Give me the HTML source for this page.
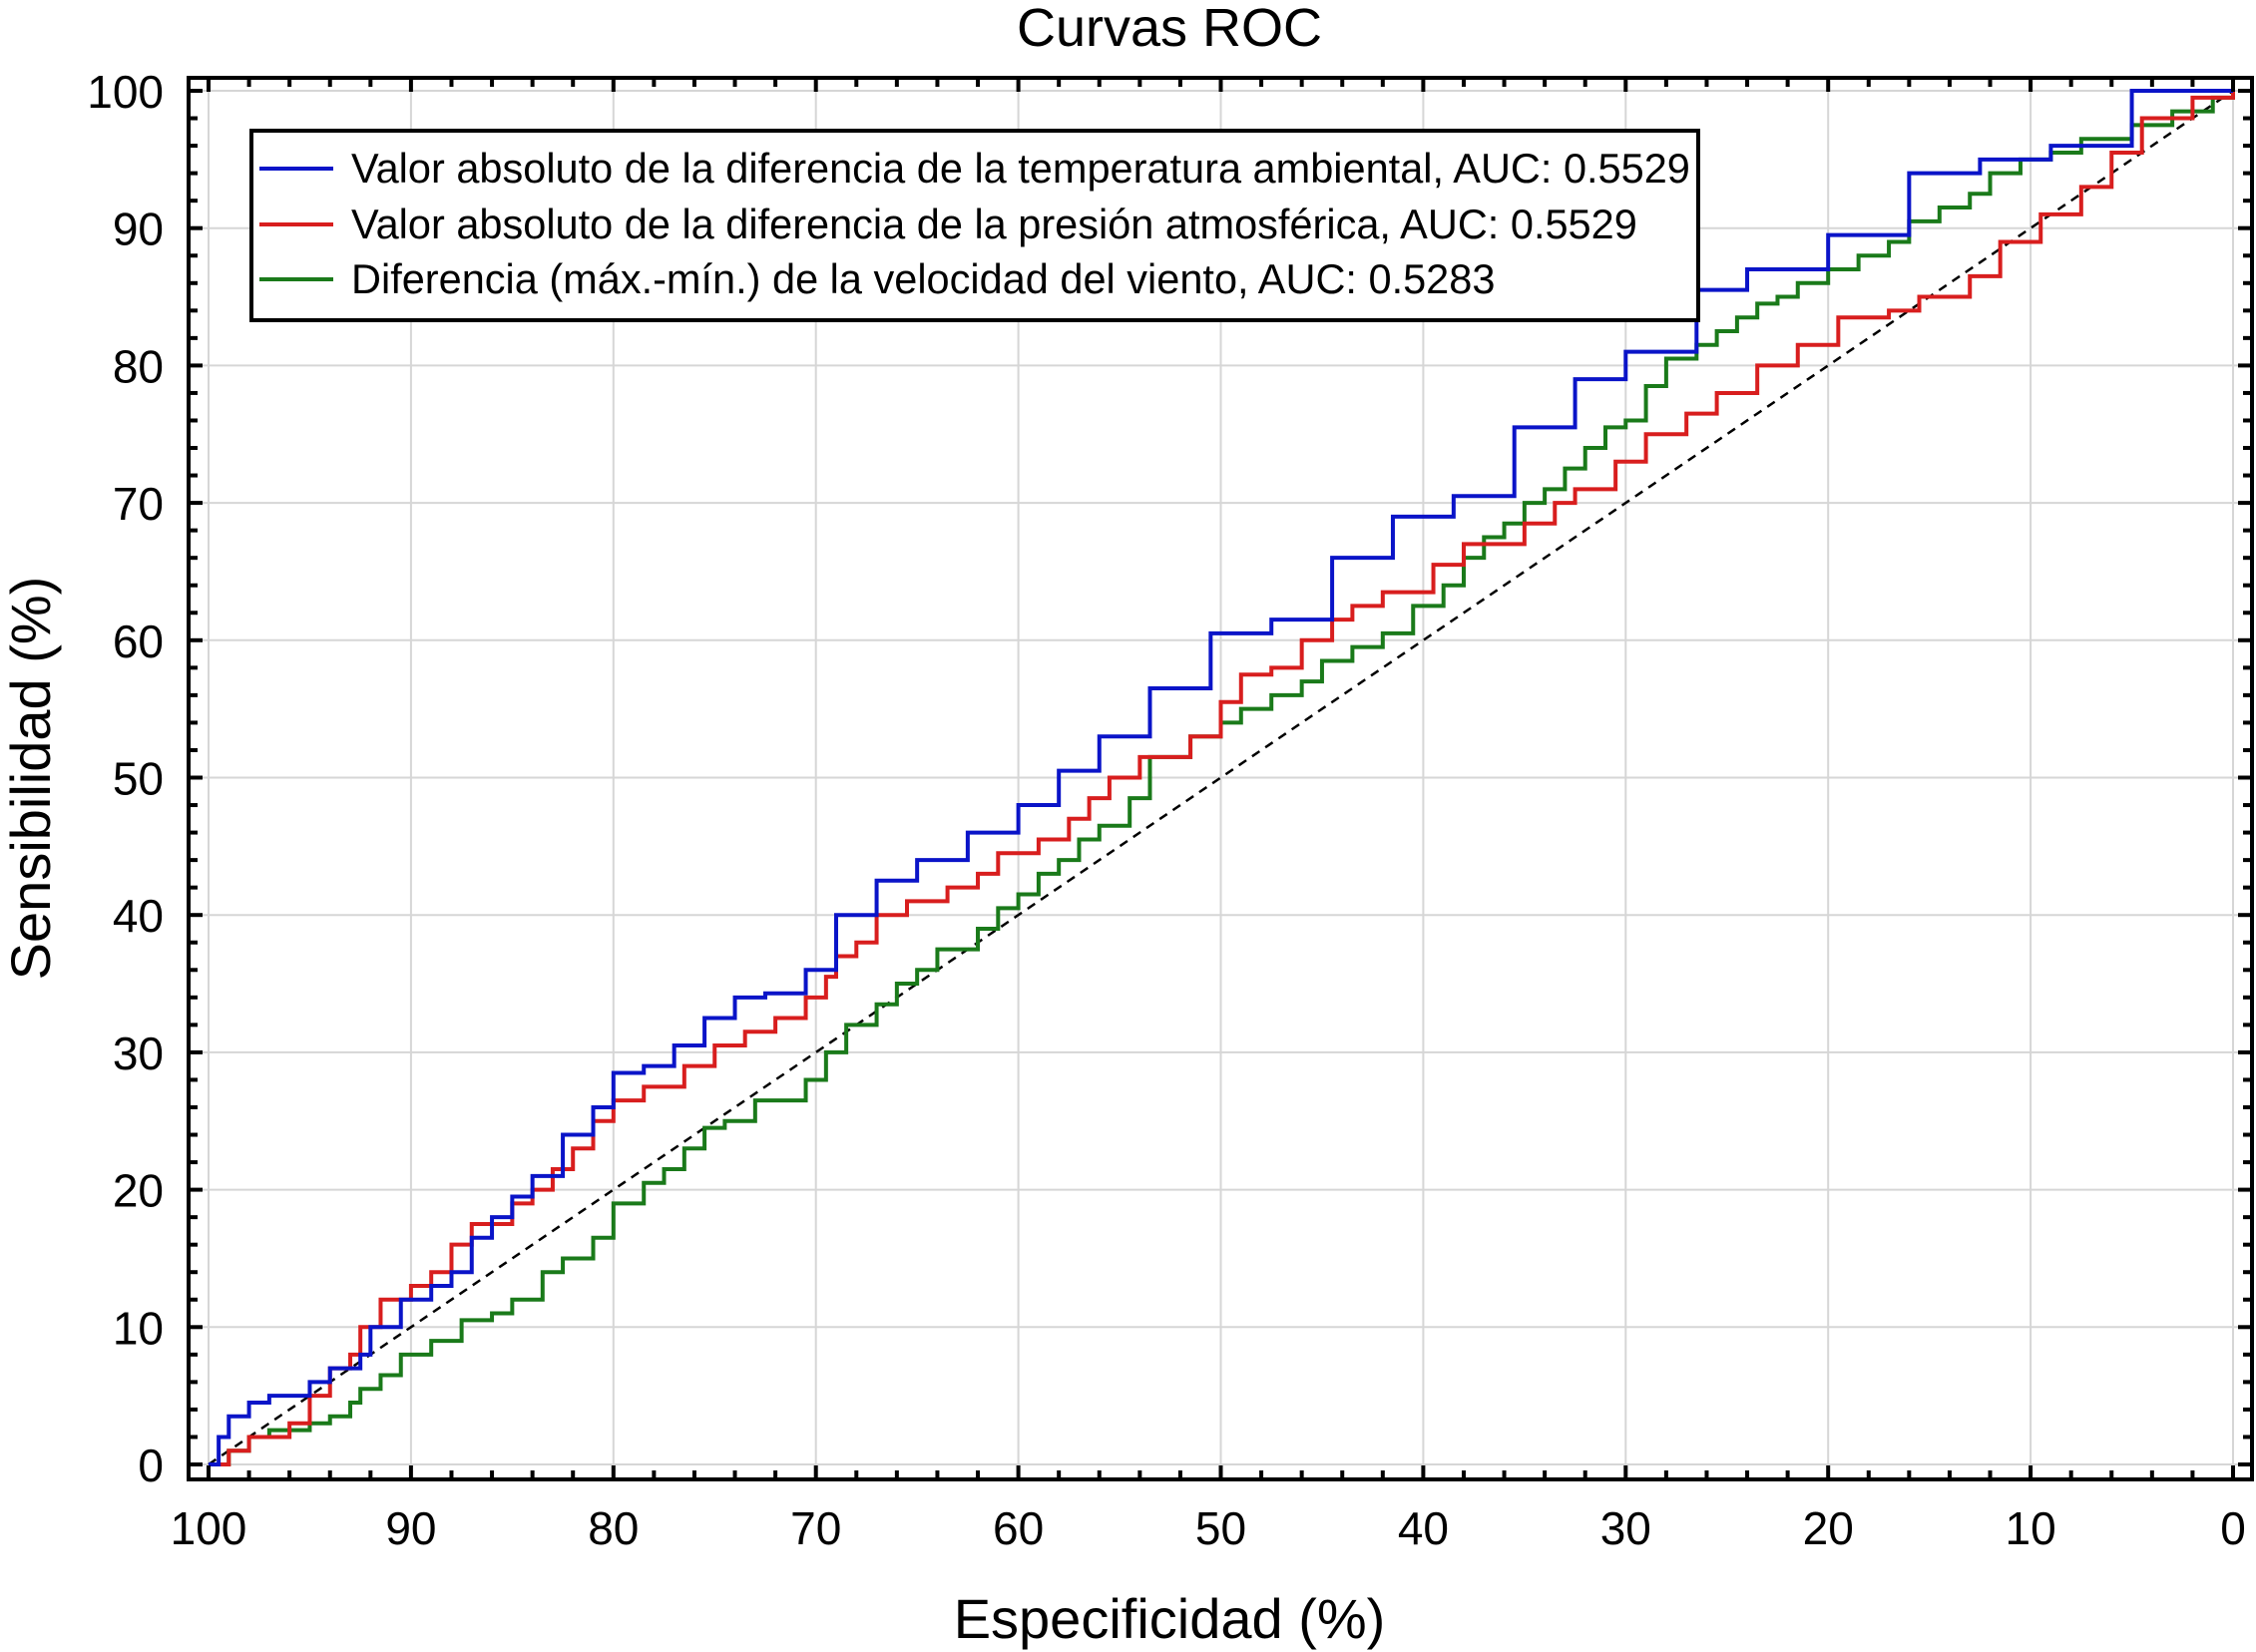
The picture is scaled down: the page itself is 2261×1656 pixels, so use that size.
<!DOCTYPE html>
<html><head><meta charset="utf-8"><style>
html,body{margin:0;padding:0;background:#fff}
svg{display:block;font-family:"Liberation Sans",Arial,sans-serif}
</style></head><body>
<svg id="c" width="2261" height="1656" viewBox="0 0 2261 1656">
<text x="1172" y="46" font-size="54" text-anchor="middle">Curvas ROC</text>
<g id="grid"></g>
<g id="curves"></g>
<rect x="189" y="78" width="2068" height="1405" fill="none" stroke="#000" stroke-width="4"/>
<g id="ticks"></g>
<text x="1172" y="1642" font-size="56" text-anchor="middle">Especificidad (%)</text>
<text transform="translate(50,780) rotate(-90)" font-size="56" text-anchor="middle">Sensibilidad (%)</text>
<g>
<rect x="252" y="131" width="1450" height="190" fill="#fff" stroke="#000" stroke-width="4"/>
<line x1="260" y1="169" x2="334" y2="169" stroke="#0a14c8" stroke-width="4"/>
<text x="352" y="183" font-size="41.5">Valor absoluto de la diferencia de la temperatura ambiental, AUC: 0.5529</text>
<line x1="260" y1="225" x2="334" y2="225" stroke="#d81e1e" stroke-width="4"/>
<text x="352" y="239" font-size="41.5">Valor absoluto de la diferencia de la presión atmosférica, AUC: 0.5529</text>
<line x1="260" y1="280" x2="334" y2="280" stroke="#1a7a1a" stroke-width="4"/>
<text x="352" y="294" font-size="41.5">Diferencia (máx.-mín.) de la velocidad del viento, AUC: 0.5283</text>
</g>
</svg>
<script>
const ticks=[0,10,20,30,40,50,60,70,80,90,100];
const blueSpec=[99.5,99,98,97,95,94,92.5,92,90.5,89,88,87,86,85,84,82.5,81,80,78.5,77,75.5,74,72.5,70.5,69,67,65,62.5,60,58,56,53.5,50.5,47.5,44.5,41.5,38.5,35.5,32.5,30,26.5,24,20,16,12.5,9,5,0];
const blueSens=[2,3.5,4.5,5,6,7,8,10,12,13,14,16.5,18,19.5,21,24,26,28.5,29,30.5,32.5,34,34.3,36,40,42.5,44,46,48,50.5,53,56.5,60.5,61.5,66,69,70.5,75.5,79,81,85.5,87,89.5,94,95,96,100,100];
const redSpec=[99,98,96,95,94,93,92.5,91.5,90,89,88,87,85,84,83,82,81,80,78.5,76.5,75,73.5,72,70.5,69.5,69,68,67,65.5,63.5,62,61,59,57.5,56.5,55.5,54,51.5,50,49,47.5,46,44.5,43.5,42,39.5,38,35,33.5,32.5,30.5,29,27,25.5,23.5,21.5,19.5,17,15.5,13,11.5,9.5,7.5,6,4.5,2,0];
const redSens=[1,2,3,5,7,8,10,12,13,14,16,17.5,19,20,21.5,23,25,26.5,27.5,29,30.5,31.5,32.5,34,35.5,37,38,40,41,42,43,44.5,45.5,47,48.5,50,51.5,53,55.5,57.5,58,60,61.5,62.5,63.5,65.5,67,68.5,70,71,73,75,76.5,78,80,81.5,83.5,84,85,86.5,89,91,93,95.5,98,99.5,100];
const greenSpec=[99,98,97,95,94,93,92.5,91.5,90.5,89,87.5,86,85,83.5,82.5,81,80,78.5,77.5,76.5,75.5,74.5,73,70.5,69.5,68.5,67,66,65,64,62,61,60,59,58,57,56,54.5,53.5,51.5,50,49,47.5,46,45,43.5,42,40.5,39,38,37,36,35,34,33,32,31,30,29,28,26.5,25.5,24.5,23.5,22.5,21.5,20,18.5,17,16,14.5,13,12,10.5,9,7.5,5,3,1,0];
const greenSens=[1,2,2.5,3,3.5,4.5,5.5,6.5,8,9,10.5,11,12,14,15,16.5,19,20.5,21.5,23,24.5,25,26.5,28,30,32,33.5,35,36,37.5,39,40.5,41.5,43,44,45.5,46.5,48.5,51.5,53,54,55,56,57,58.5,59.5,60.5,62.5,64,66,67.5,68.5,70,71,72.5,74,75.5,76,78.5,80.5,81.5,82.5,83.5,84.5,85,86,87,88,89,90.5,91.5,92.5,94,95,95.5,96.5,97.5,98.5,99.5,100];
const X=s=>209+(100-s)*20.29;
const Y=v=>1468-v*13.77;
const NS='http://www.w3.org/2000/svg';
function mk(tag,at,parent){const e=document.createElementNS(NS,tag);for(const k in at)e.setAttribute(k,at[k]);parent.appendChild(e);return e;}
const grid=document.getElementById('grid'),tk=document.getElementById('ticks'),cv=document.getElementById('curves');
ticks.forEach(t=>{
  const gv=mk('line',{x1:X(t),x2:X(t),y1:80,y2:1481,stroke:'#d6d6d6','stroke-width':2},grid);
  
  
  const gh=mk('line',{x1:191,x2:2255,y1:Y(t),y2:Y(t),stroke:'#d6d6d6','stroke-width':2},grid);
  
  
  const xl=mk('text',{x:X(t),y:1548,'font-size':46,'text-anchor':'middle'},tk);xl.textContent=t;
  
  
  const yl=mk('text',{x:164,y:Y(t)+17,'font-size':46,'text-anchor':'end'},tk);yl.textContent=t;
  
  
});
for(let m=0;m<=100;m+=2){
  const L=(m%10===0)?12:7;
  [[X(m),1481,X(m),1481-L],[X(m),80,X(m),80+L],[191,Y(m),191+L,Y(m)],[2255,Y(m),2255-L,Y(m)]].forEach(c=>{
    const l=mk('line',{x1:c[0],y1:c[1],x2:c[2],y2:c[3],stroke:'#000','stroke-width':4},tk);
    
    
  });
}
const diag=mk('line',{x1:X(100),y1:Y(0),x2:X(0),y2:Y(100),stroke:'#000','stroke-width':2.5,'stroke-dasharray':'9,7'},cv);


function step(sp,se,col,name){
  let d='M'+X(100)+','+Y(0);
  for(let i=0;i<sp.length;i++){d+=' H'+X(sp[i])+' V'+Y(se[i]);}
  const p=mk('path',{d:d,fill:'none',stroke:col,'stroke-width':4},cv);
  
  
}
step(greenSpec,greenSens,'#1a7a1a','roc-curve-wind');
step(redSpec,redSens,'#d81e1e','roc-curve-pressure');
step(blueSpec,blueSens,'#0a14c8','roc-curve-temperature');
</script>
</body></html>
